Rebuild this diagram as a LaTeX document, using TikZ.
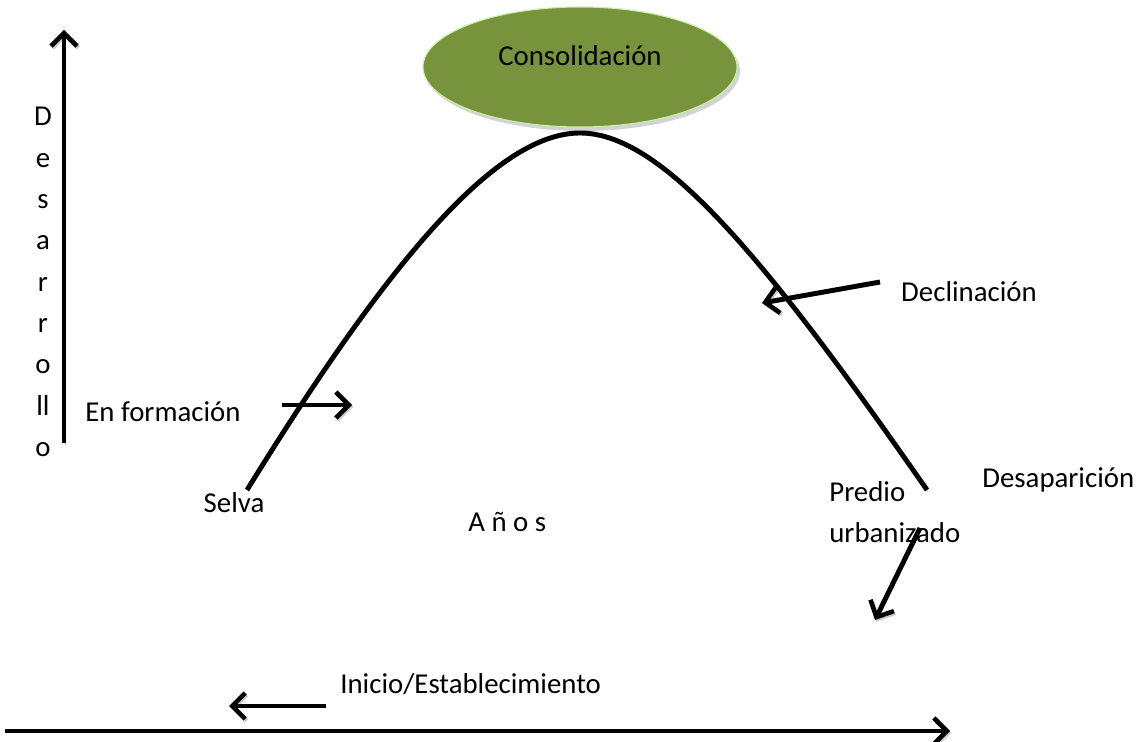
\documentclass[tikz,border=0pt]{standalone}
\usepackage{fontspec}
\setmainfont{Carlito}
\usetikzlibrary{arrows.meta,shadows,shapes.geometric}

\definecolor{olive}{HTML}{77933C}
\definecolor{oliveRim}{HTML}{C6EFA8}

\begin{document}
\begin{tikzpicture}[
	x=0.02cm, y=-0.02cm,
	font=\fontsize{16.4}{23.5}\selectfont,
	txt/.style={
		inner sep=0pt,
		align=left,
	},
	phase/.style={
		ellipse,
		fill=olive,
		draw=oliveRim,
		semithick,
		minimum width=6.28cm,
		minimum height=2.4cm,
		drop shadow={opacity=0.35, shadow xshift=0.6mm, shadow yshift=-0.8mm},
	},
	Shade/.style={% soft grey copy under the black lines
		preaction={draw=black, opacity=0.2, transform canvas={xshift=0.8pt, yshift=-1pt}},
	},
	ArrowB1/.style={% thick arrows with open heads
		line width=2.8pt,
		-{Straight Barb[length=2.6mm, width=5.2mm, line width=2.6pt]},
		Shade,
	},
	Curve/.style={
		line width=2.8pt,
		line cap=butt,
		Shade,
	},
]

\useasboundingbox (0,0) rectangle (1138,742);

% axes
\coordinate (yBot) at (64,443);
\coordinate (yTop) at (64,30);
\coordinate (xLeft) at (5,731);
\coordinate (xRight) at (950,731);
\draw[ArrowB1] (yBot) -- (yTop);
\draw[ArrowB1] (xLeft) -- (xRight);

\node[txt, align=center] (des) at (43,282) {D\\e\\s\\a\\r\\r\\o\\ll\\o};

% the top
\node[phase] (cons) at (580,67) {};
\node (consTxt) at (580,56) {Consolidación};

% the curve
\coordinate (cStart) at (247,490);
\coordinate (cPeak) at (580,133);
\coordinate (cEnd) at (927,490);
\draw[Curve] (cStart) .. controls (395,250) and (500,133) .. (cPeak)
	.. controls (660,133) and (760,250) .. (cEnd);

% labels
\node[txt, anchor=west] (enf) at (85,412) {En formación};
\node[txt] (decl) at (969,292) {Declinación};
\node[txt] (selva) at (234,503) {Selva};
\node[txt, anchor=west] (anos) at (468,522) {A ñ o s};
\node[txt, anchor=west] (predio) at (829,512) {Predio\\urbanizado};
\node[txt, anchor=west] (desap) at (982,480) {Desaparición};
\node[txt, anchor=west] (inicio) at (340,684) {Inicio/Establecimiento};

% arrows
\coordinate (enfA) at (282,405);
\coordinate (enfB) at (352,405);
\coordinate (declA) at (880,282);
\coordinate (declB) at (762,303);
\coordinate (predA) at (920,528);
\coordinate (predB) at (875,620);
\coordinate (iniA) at (326,706);
\coordinate (iniB) at (229,706);
\draw[ArrowB1] (enfA) -- (enfB);
\draw[ArrowB1] (declA) -- (declB);
\draw[ArrowB1] (predA) -- (predB);
\draw[ArrowB1] (iniA) -- (iniB);

\end{tikzpicture}
\end{document}
